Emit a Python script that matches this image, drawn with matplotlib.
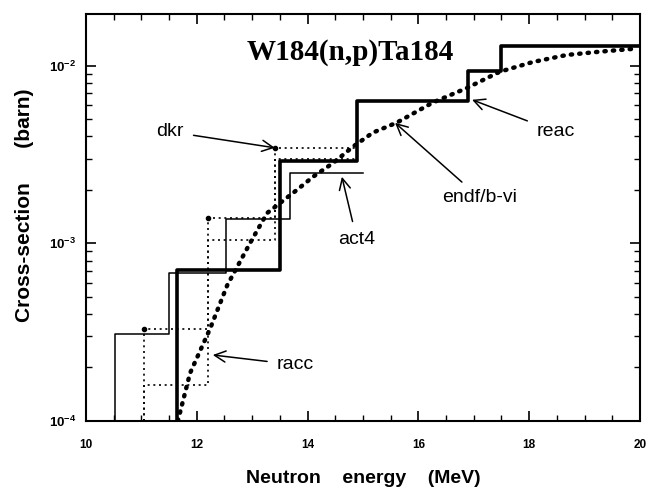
import numpy as np
import matplotlib
matplotlib.use("Agg")
import matplotlib.pyplot as plt
from matplotlib.ticker import LogLocator, NullFormatter, MultipleLocator, FixedLocator

plt.rcParams['font.family'] = ['Liberation Sans', 'DejaVu Sans']

# Group-wise cross sections (barn) versus neutron energy (MeV)
reac_edges = [11.65, 13.5, 14.9, 16.9, 17.5, 20.0]
reac_vals = [7.1e-4, 2.9e-3, 6.3e-3, 9.4e-3, 1.29e-2]

act4_edges = [10.52, 11.5, 12.52, 13.68, 15.0]
act4_vals = [3.1e-4, 6.8e-4, 1.37e-3, 2.5e-3]

dkr_edges = [11.05, 12.2, 13.42, 14.86]
dkr_vals = [3.3e-4, 1.38e-3, 3.45e-3]

racc_edges = [11.05, 12.2, 13.42, 14.86]
racc_vals = [1.6e-4, 1.04e-3, 3.0e-3]

# Evaluated pointwise curve
endf_e = [11.66, 11.88, 12.24, 12.55, 12.96, 13.27, 13.81, 14.10, 14.46, 14.82,
          15.18, 15.61, 16.26, 16.88, 17.47, 18.07, 18.68, 19.28, 19.95]
endf_xs = [1.0e-4, 1.86e-4, 3.3e-4, 5.8e-4, 1.0e-3, 1.48e-3, 2.0e-3, 2.37e-3, 2.83e-3,
           3.5e-3, 4.2e-3, 4.78e-3, 6.2e-3, 7.5e-3, 9.25e-3, 1.05e-2, 1.15e-2, 1.2e-2, 1.25e-2]

x_ticks = [10, 12, 14, 16, 18, 20]
y_lo, y_hi = 1e-4, 1.96e-2


def stair_xy(edges, vals, base):
    x = np.r_[edges[0], edges]
    y = np.r_[base, vals, vals[-1]]
    return x, y


fig = plt.figure(figsize=(6.51, 4.94), dpi=100)
ax = fig.add_axes([0.132, 0.148, 0.851, 0.824])

x, y = stair_xy(act4_edges, act4_vals, y_lo)
ax.step(x, y, where='post', color='black', lw=1.1)

x, y = stair_xy(racc_edges, racc_vals, y_lo)
ax.step(x, y, where='post', color='black', lw=1.2, ls=(0, (1.2, 2.2)))

x, y = stair_xy(dkr_edges, dkr_vals, y_lo)
ax.step(x, y, where='post', color='black', lw=1.2, ls=(0, (1.2, 2.2)))
ax.plot(dkr_edges[:-1], dkr_vals, 'o', color='black', ms=3)

x, y = stair_xy(reac_edges, reac_vals, y_lo)
ax.step(x, y, where='post', color='black', lw=2.6)

ax.plot(endf_e, endf_xs, color='black', lw=3.2, ls=(0, (0.3, 1.6)),
        dash_capstyle='round')

ax.set_xscale('linear')
ax.set_yscale('log')
ax.set_xlim(10, 20)
ax.set_ylim(y_lo, y_hi)

ax.xaxis.set_major_locator(FixedLocator(x_ticks))
ax.xaxis.set_minor_locator(MultipleLocator(0.5))
ax.yaxis.set_major_locator(LogLocator(base=10, numticks=10))
ax.yaxis.set_minor_locator(LogLocator(base=10, subs=np.arange(2, 10), numticks=10))
ax.yaxis.set_minor_formatter(NullFormatter())

ax.tick_params(which='both', direction='in', top=True, right=True, color='black')
ax.tick_params(which='major', length=7, width=1.2, pad=7)
ax.tick_params(axis='x', which='major', pad=13, labelsize=8.5)
ax.tick_params(axis='y', which='major', labelsize=9.5)
ax.tick_params(which='minor', length=4, width=1.0)
for lab in ax.get_xticklabels() + ax.get_yticklabels():
    lab.set_fontweight('bold')
for sp in ax.spines.values():
    sp.set_linewidth(1.5)

ax.set_xlabel('Neutron    energy    (MeV)', fontsize=14, fontweight='bold', labelpad=14)
ax.set_ylabel('Cross-section      (barn)', fontsize=15, fontweight='bold')
ax.yaxis.set_label_coords(-0.094, 0.53)

ax.text(0.478, 0.905, 'W184(n,p)Ta184', transform=ax.transAxes, ha='center', va='center',
        fontsize=21, fontweight='bold', family=['Liberation Serif', 'DejaVu Serif'])

arrow = dict(arrowstyle='->', color='black', lw=1.1, mutation_scale=20, shrinkA=5, shrinkB=0)
notes = [
    ('dkr', (13.41, 3.45e-3), (11.52, 4.25e-3)),
    ('act4', (14.62, 2.37e-3), (14.89, 1.05e-3)),
    ('endf/b-vi', (15.58, 4.77e-3), (17.11, 1.80e-3)),
    ('reac', (16.97, 6.43e-3), (18.48, 4.25e-3)),
    ('racc', (12.29, 2.35e-4), (13.78, 2.07e-4)),
]
for label, tip, pos in notes:
    ax.annotate(label, xy=tip, xytext=pos, ha='center', va='center', fontsize=14,
                arrowprops=arrow)

fig.savefig('out.png', dpi=100)
